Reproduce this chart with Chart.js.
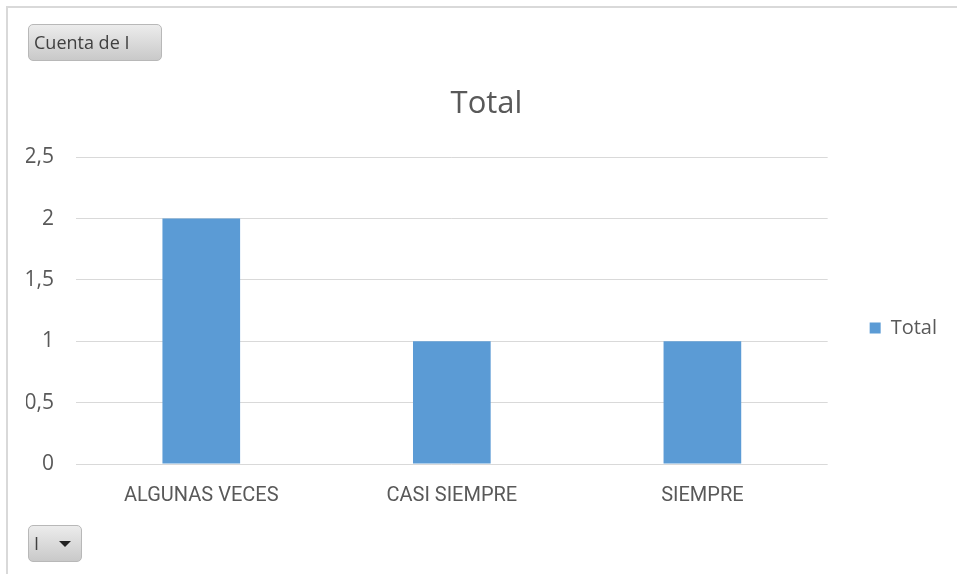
<!DOCTYPE html>
<html>
<head>
<meta charset="utf-8">
<script src="https://cdn.jsdelivr.net/npm/chart.js@4.4.0/dist/chart.umd.min.js"></script>
<style>
  html, body { margin: 0; padding: 0; background: #fff; }
  #wrap { position: relative; width: 957px; height: 574px; overflow: hidden; }
  #frame { position: absolute; left: 6px; top: 6px; right: 0; bottom: 0;
           border-top: 2px solid #d9d9d9; border-left: 2px solid #d9d9d9; }
  canvas { position: absolute; left: 0; top: 0; }
  .pivot-btn { position: absolute; box-sizing: border-box; border: 1px solid #b8b8b8; border-radius: 5px;
               background: linear-gradient(#ececec, #c9c9c9); font-family: "Open Sans", sans-serif;
               color: #404040; font-size: 18px; line-height: 34px; padding-left: 5px; }
  #valueBtn { left: 28px; top: 24px; width: 134px; height: 37px; }
  #fieldBtn { left: 28px; top: 525px; width: 54px; height: 37px; }
  #fieldBtn .arrow { position: absolute; left: 30px; top: 15px; width: 0; height: 0;
                     border-left: 6px solid transparent; border-right: 6px solid transparent;
                     border-top: 6px solid #222; }
</style>
</head>
<body>
<div id="wrap">
  <div id="frame"></div>
  <canvas id="chart" width="957" height="574"></canvas>
  <div id="valueBtn" class="pivot-btn">Cuenta de I</div>
  <div id="fieldBtn" class="pivot-btn">I<span class="arrow"></span></div>
</div>
<script>
const categories = ['ALGUNAS VECES', 'CASI SIEMPRE', 'SIEMPRE'];
const totals = [2, 1, 1];
const yTickValues = [0, 0.5, 1, 1.5, 2, 2.5];
const yTickLabels = ['0', '0,5', '1', '1,5', '2', '2,5'];

const textColor = '#595959';
const gridColor = '#d9d9d9';

document.addEventListener('DOMContentLoaded', function () {
  const ctx = document.getElementById('chart').getContext('2d');

  new Chart(ctx, {
    type: 'bar',
    data: {
      labels: categories,
      datasets: [{
        label: 'Total',
        data: totals,
        backgroundColor: '#5b9bd5',
        borderWidth: 0,
        categoryPercentage: 1,
        barPercentage: 0.31
      }]
    },
    options: {
      responsive: false,
      animation: false,
      layout: {
        padding: { left: 26, right: 10, top: 0, bottom: 46 }
      },
      plugins: {
        tooltip: { enabled: false },
        title: {
          display: true,
          text: 'Total',
          color: textColor,
          font: { family: 'Open Sans', size: 31, weight: 'normal' },
          padding: { top: 86, bottom: 34 }
        },
        legend: {
          position: 'right',
          // empty title only pushes the single entry down
          title: {
            display: true,
            text: '',
            font: { size: 10, lineHeight: 1 },
            padding: { top: 0, bottom: 118 }
          },
          labels: {
            boxWidth: 11,
            boxHeight: 11,
            padding: 42,
            color: textColor,
            font: { family: 'Open Sans', size: 20 }
          }
        }
      },
      scales: {
        x: {
          grid: { display: false, drawTicks: false },
          border: { display: false },
          ticks: {
            color: textColor,
            padding: 20,
            maxRotation: 0,
            font: { family: 'Roboto', size: 20 }
          }
        },
        y: {
          min: 0,
          max: 2.5,
          afterBuildTicks: function (axis) {
            axis.ticks = yTickValues.map(v => ({ value: v }));
          },
          afterFit: function (axis) {
            axis.width = 50;
          },
          grid: { color: gridColor, lineWidth: 1, drawTicks: false },
          border: { display: false },
          ticks: {
            color: textColor,
            padding: 22,
            font: { family: 'Open Sans', size: 21 },
            callback: function (value) {
              const i = yTickValues.indexOf(value);
              return i >= 0 ? yTickLabels[i] : '';
            }
          }
        }
      }
    }
  });
});
</script>
</body>
</html>
